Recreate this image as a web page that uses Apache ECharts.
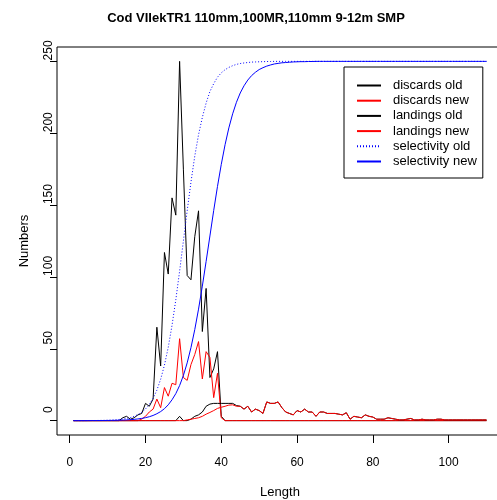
<!DOCTYPE html>
<html>
<head>
<meta charset="utf-8">
<script src="https://cdn.jsdelivr.net/npm/echarts@6/dist/echarts.min.js"></script>
<style>
html, body { margin: 0; padding: 0; background: #fff; }
#main { width: 497px; height: 500px; }
</style>
</head>
<body>
<div id="main"></div>
<script>
// length classes 1..110
var lengths = [];
for (var i = 1; i <= 110; i++) lengths.push(i);

var xTicks = [0, 20, 40, 60, 80, 100];
var yTicks = [0, 50, 100, 150, 200, 250];

var discardsOld = [
  0, 0, 0, 0, 0, 0, 0, 0, 0, 0,
  0, 0, 0, 2, 3, 1, 2, 4, 5, 12,
  10, 15, 65, 38, 117, 102, 155, 143, 250, 175,
  101, 98, 128, 146, 62, 92, 30, 36, 48, 3,
  0, 0, 0, 0, 0, 0, 0, 0, 0, 0,
  0, 0, 0, 0, 0, 0, 0, 0, 0, 0,
  0, 0, 0, 0, 0, 0, 0, 0, 0, 0,
  0, 0, 0, 0, 0, 0, 0, 0, 0, 0,
  0, 0, 0, 0, 0, 0, 0, 0, 0, 0,
  0, 0, 0, 0, 0, 0, 0, 0, 0, 0,
  0, 0, 0, 0, 0, 0, 0, 0, 0, 0
];
var discardsNew = [
  0, 0, 0, 0, 0, 0, 0, 0, 0, 0,
  0, 0, 0, 0, 0, 0, 0, 0, 1, 3,
  6, 8, 15, 9, 23, 17, 26, 25, 57, 30,
  28, 39, 46, 55, 29, 48, 44, 16, 33, 2,
  0, 0, 0, 0, 0, 0, 0, 0, 0, 0,
  0, 0, 0, 0, 0, 0, 0, 0, 0, 0,
  0, 0, 0, 0, 0, 0, 0, 0, 0, 0,
  0, 0, 0, 0, 0, 0, 0, 0, 0, 0,
  0, 0, 0, 0, 0, 0, 0, 0, 0, 0,
  0, 0, 0, 0, 0, 0, 0, 0, 0, 0,
  0, 0, 0, 0, 0, 0, 0, 0, 0, 0
];
var landingsOld = [
  0, 0, 0, 0, 0, 0, 0, 0, 0, 0,
  0, 0, 0, 0, 0, 0, 0, 0, 0, 0,
  0, 0, 0, 0, 0, 0, 0, 0, 3, 0,
  0, 1, 3, 4, 6, 10, 11.5, 12, 12, 12,
  12, 12, 12, 10.5, 10, 8, 10, 6, 8, 7,
  5, 13, 12, 12, 13, 9, 6, 5, 4, 7,
  6, 8, 6, 6, 3, 6, 6, 5, 5, 5,
  4.5, 4, 5.5, 1, 3, 2.5, 2, 4, 3, 2.5,
  1, 1, 1, 2, 1.5, 1, 0.5, 0.5, 1, 1.5,
  0.5, 0.5, 1, 0.5, 0.5, 0.5, 1, 1, 0.5, 0.5,
  0.5, 0.5, 0.5, 0.5, 0.5, 0.5, 0.5, 0.5, 0.5, 0.5
];
var landingsNew = [
  0, 0, 0, 0, 0, 0, 0, 0, 0, 0,
  0, 0, 0, 0, 0, 0, 0, 0, 0, 0,
  0, 0, 0, 0, 0, 0, 0, 0, 0, 0,
  0.5, 1, 1.5, 2, 3, 4.5, 5.7, 7, 8.5, 9.3,
  10, 10.8, 11, 10, 10, 8, 10, 6, 8, 7,
  5, 13, 12, 12, 13, 9, 6, 5, 4, 7,
  6, 8, 6, 6, 3, 6, 6, 5, 5, 5,
  4.5, 4, 5.5, 1, 3, 2.5, 2, 4, 3, 2.5,
  1, 1, 1, 2, 1.5, 1, 0.5, 0.5, 1, 1.5,
  0.5, 0.5, 1, 0.5, 0.5, 0.5, 1, 1, 0.5, 0.5,
  0.5, 0.5, 0.5, 0.5, 0.5, 0.5, 0.5, 0.5, 0.5, 0.5
];
var selectivityOld = [
  0, 0, 0, 0, 0.1, 0.1, 0.1, 0.15, 0.2, 0.3,
  0.4, 0.55, 0.8, 1.1, 1.5, 2.1, 3, 4.2, 5.8, 8.1,
  11.2, 15.5, 21.2, 28.8, 38.6, 51, 66.3, 84.1, 104, 125,
  146, 166, 184, 199, 211, 221, 229, 234.5, 239, 242,
  244.2, 245.8, 247, 247.9, 248.5, 248.9, 249.2, 249.5, 249.6, 249.7,
  249.8, 249.9, 249.9, 250, 250, 250, 250, 250, 250, 250,
  250, 250, 250, 250, 250, 250, 250, 250, 250, 250,
  250, 250, 250, 250, 250, 250, 250, 250, 250, 250,
  250, 250, 250, 250, 250, 250, 250, 250, 250, 250,
  250, 250, 250, 250, 250, 250, 250, 250, 250, 250,
  250, 250, 250, 250, 250, 250, 250, 250, 250, 250
];
var selectivityNew = [
  0, 0, 0, 0, 0, 0.05, 0.05, 0.05, 0.1, 0.12,
  0.15, 0.2, 0.27, 0.37, 0.5, 0.66, 0.88, 1.17, 1.55, 2.06,
  2.7, 3.6, 4.8, 6.3, 8.3, 11, 14.5, 18.8, 24.4, 31.4,
  40.2, 50.8, 63.3, 77.6, 93.6, 110.8, 128.5, 146.2, 163, 178.3,
  192, 203.7, 213.5, 221.5, 228, 233, 237, 240.1, 242.4, 244.3,
  245.6, 246.7, 247.5, 248.2, 248.6, 249, 249.2, 249.4, 249.6, 249.7,
  249.8, 249.8, 249.9, 249.9, 250, 250, 250, 250, 250, 250,
  250, 250, 250, 250, 250, 250, 250, 250, 250, 250,
  250, 250, 250, 250, 250, 250, 250, 250, 250, 250,
  250, 250, 250, 250, 250, 250, 250, 250, 250, 250,
  250, 250, 250, 250, 250, 250, 250, 250, 250, 250
];

function pairs(vals) {
  return lengths.map(function (l, i) { return [l, vals[i]]; });
}

var font = '"Liberation Sans", Arial, sans-serif';

function lineSeries(name, vals, color, type) {
  return {
    name: name,
    type: 'line',
    data: pairs(vals),
    symbol: 'none',
    color: color,
    itemStyle: { color: color },
    lineStyle: { color: color, width: 1, type: type || 'solid' },
    emphasis: { disabled: true }
  };
}

var chart = echarts.init(document.getElementById('main'));

var option = {
  animation: false,
  backgroundColor: '#fff',
  textStyle: { fontFamily: font },
  graphic: [{
    type: 'text',
    x: 256,
    y: 18,
    style: {
      text: 'Cod VIIekTR1 110mm,100MR,110mm 9-12m SMP',
      font: 'bold 13px "Liberation Sans", Arial, sans-serif',
      fill: '#000',
      textAlign: 'center',
      textVerticalAlign: 'middle'
    }
  }],
  grid: {
    left: 57,
    top: 47,
    width: 446,
    height: 388,
    show: true,
    borderColor: '#000',
    borderWidth: 1,
    outerBoundsMode: 'none'
  },
  legend: {
    orient: 'vertical',
    left: 344,
    top: 67,
    data: ['discards old', 'discards new', 'landings old', 'landings new', 'selectivity old', 'selectivity new'],
    itemWidth: 24,
    itemHeight: 13,
    itemGap: 2.2,
    padding: [12, 6, 10, 12],
    borderColor: '#000',
    borderWidth: 1,
    borderRadius: 0,
    backgroundColor: '#fff',
    selectedMode: false,
    itemStyle: { opacity: 0 },
    textStyle: { fontSize: 13, color: '#000', fontFamily: font, padding: [0, 0, 0, 7] }
  },
  xAxis: {
    type: 'value',
    min: -3.36,
    max: 114.36,
    axisLine: { show: false, onZero: false },
    splitLine: { show: false },
    axisTick: { show: true, length: 8, customValues: xTicks, lineStyle: { color: '#000' } },
    axisLabel: { customValues: xTicks, margin: 22, fontSize: 12, color: '#000', fontFamily: font },
    name: 'Length',
    nameLocation: 'middle',
    nameGap: 51,
    nameTextStyle: { fontSize: 13, color: '#000', fontFamily: font }
  },
  yAxis: {
    type: 'value',
    min: -10,
    max: 260,
    axisLine: { show: false, onZero: false },
    splitLine: { show: false },
    axisTick: { show: true, length: 7, customValues: yTicks, lineStyle: { color: '#000' } },
    axisLabel: { customValues: yTicks, rotate: 90, margin: 2, padding: [0, 0, 0, 22], fontSize: 12, color: '#000', fontFamily: font },
    name: 'Numbers',
    nameLocation: 'middle',
    nameRotate: 90,
    nameGap: 26,
    nameTextStyle: { fontSize: 13, color: '#000', fontFamily: font }
  },
  series: [
    lineSeries('discards old', discardsOld, '#000000'),
    lineSeries('discards new', discardsNew, '#ff0000'),
    lineSeries('landings old', landingsOld, '#000000'),
    lineSeries('landings new', landingsNew, '#ff0000'),
    lineSeries('selectivity old', selectivityOld, '#0000ff', [1, 2]),
    lineSeries('selectivity new', selectivityNew, '#0000ff')
  ]
};

chart.setOption(option);
</script>
</body>
</html>
